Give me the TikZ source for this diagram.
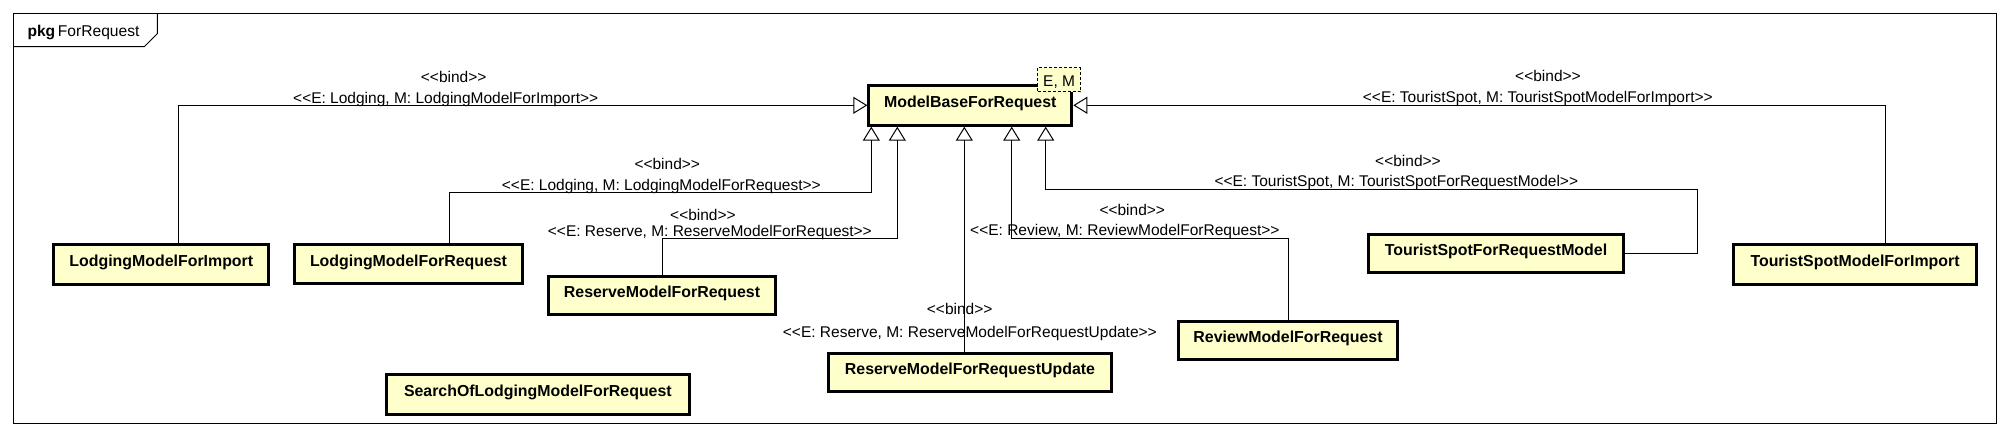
\documentclass[tikz,border=0pt]{standalone}
\usepackage{fontspec}
\setmainfont{Liberation Sans}
\usetikzlibrary{arrows.meta}
\definecolor{clsfill}{HTML}{FFFFCC}
\begin{document}
\begin{tikzpicture}[x=1pt,y=-1pt,
  cls/.style={draw, line width=3pt, fill=clsfill, inner sep=0pt,
    text height=11.4pt, text depth=6.8pt,
    font=\fontsize{15.9}{19}\selectfont\bfseries},
  lbl/.style={inner sep=0pt, anchor=base west, font=\fontsize{15.5}{18}\selectfont},
  bindline/.style={line width=1pt, -{Triangle[open, length=14pt, width=17pt, line width=1pt]}},
  framestyle/.style={line width=1pt}
]
\useasboundingbox (0,0) rectangle (2009,436);

% package frame
\draw[framestyle] (13.3,13.3) rectangle (1996.7,423.3);
\draw[framestyle] (13.3,46.7) -- (144.3,46.7) -- (157.3,33.7) -- (157.3,13.3);
\node[lbl, font=\fontsize{15.6}{18}\selectfont] (pkg) at (27.3,37) {\bfseries pkg\hspace{2.7pt}\mdseries ForRequest};

% classes
\node[cls, minimum width=203pt, minimum height=39.4pt] (base) at (970.3,105.5) {ModelBaseForRequest};
\node[draw, dash pattern=on 3pt off 2pt, line width=1pt, fill=clsfill, inner sep=0pt,
  minimum width=42.7pt, minimum height=24pt, text height=14pt, text depth=0pt,
  font=\fontsize{15.5}{18}\selectfont] (tparam) at (1059.15,79.8) {E, M};

\node[cls, minimum width=215pt, minimum height=39.4pt] (lmfi) at (161.3,264.5) {LodgingModelForImport};
\node[cls, minimum width=228.6pt, minimum height=39pt] (lmfr) at (408.5,264.3) {LodgingModelForRequest};
\node[cls, minimum width=227.6pt, minimum height=37.7pt] (rmfr) at (662,295.35) {ReserveModelForRequest};
\node[cls, minimum width=302.7pt, minimum height=39.4pt] (solm) at (537.85,394.5) {SearchOfLodgingModelForRequest};
\node[cls, minimum width=283.6pt, minimum height=38pt] (rmfru) at (970,372.2) {ReserveModelForRequestUpdate};
\node[cls, minimum width=219.6pt, minimum height=38pt] (rvmfr) at (1288,340.5) {ReviewModelForRequest};
\node[cls, minimum width=255.6pt, minimum height=38.3pt] (tsfrm) at (1496,253.35) {TouristSpotForRequestModel};
\node[cls, minimum width=242.4pt, minimum height=39.4pt] (tsmfi) at (1855,264.5) {TouristSpotModelForImport};

% bend points
\coordinate (k1) at (178.7,105.3);
\coordinate (k2a) at (449.3,192.7);
\coordinate (k2b) at (871.3,192.7);
\coordinate (k3b) at (897.3,238);
\coordinate (k4) at (964.3,238);
\coordinate (k5b) at (1011.7,238);
\coordinate (k6a) at (1697.7,189.3);
\coordinate (k6b) at (1045.7,189.3);
\coordinate (k7) at (1885.7,105.3);

% connectors
\draw[bindline] (lmfi.north -| k1) -- (k1) -- (base.west |- k1);
\draw[bindline] (lmfr.north -| k2a) -- (k2a) -- (k2b) -- (base.south -| k2b);
\draw[bindline] (rmfr.north) -- (rmfr.north |- k3b) -- (k3b) -- (base.south -| k3b);
\draw[bindline] (rmfru.north -| k4) -- (base.south -| k4);
\draw[bindline] (rvmfr.north) -- (rvmfr.north |- k5b) -- (k5b) -- (base.south -| k5b);
\draw[bindline] (tsfrm.east) -- (tsfrm.east -| k6a) -- (k6a) -- (k6b) -- (base.south -| k6b);
\draw[bindline] (tsmfi.north -| k7) -- (k7) -- (base.east |- k7);

% labels
\node[lbl] (b1) at (420.7,82.5) {<{}<bind>{}>};
\node[lbl] (t1) at (293,103.3) {<{}<E: Lodging, M: LodgingModelForImport>{}>};
\node[lbl] (b2) at (634.3,169) {<{}<bind>{}>};
\node[lbl] (t2) at (501.7,190) {<{}<E: Lodging, M: LodgingModelForRequest>{}>};
\node[lbl] (b3) at (670,220) {<{}<bind>{}>};
\node[lbl] (t3) at (547.7,236.5) {<{}<E: Reserve, M: ReserveModelForRequest>{}>};
\node[lbl] (b4) at (926.7,314.3) {<{}<bind>{}>};
\node[lbl] (t4) at (782.7,337) {<{}<E: Reserve, M: ReserveModelForRequestUpdate>{}>};
\node[lbl] (b5) at (1099.3,215) {<{}<bind>{}>};
\node[lbl] (t5) at (970,235.7) {<{}<E: Review, M: ReviewModelForRequest>{}>};
\node[lbl] (b6) at (1375,166) {<{}<bind>{}>};
\node[lbl] (t6) at (1214.3,186.7) {<{}<E: TouristSpot, M: TouristSpotForRequestModel>{}>};
\node[lbl] (b7) at (1515,81.7) {<{}<bind>{}>};
\node[lbl] (t7) at (1362.7,102.7) {<{}<E: TouristSpot, M: TouristSpotModelForImport>{}>};
\end{tikzpicture}
\end{document}
